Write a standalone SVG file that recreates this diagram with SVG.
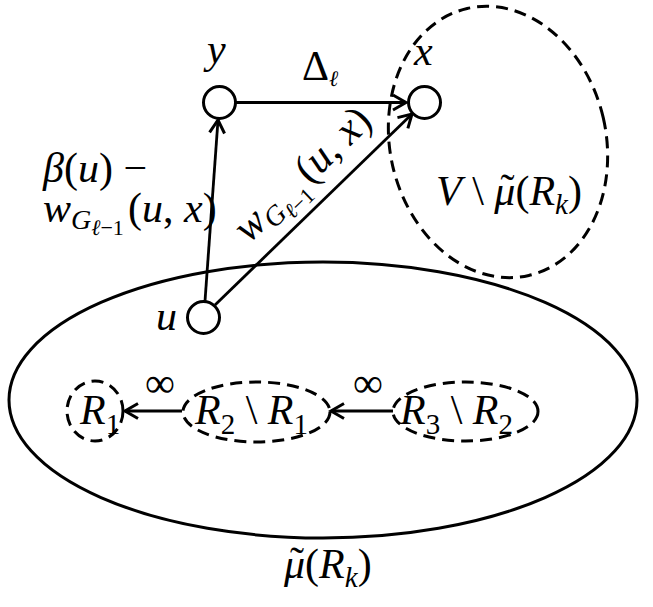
<svg xmlns="http://www.w3.org/2000/svg" width="653" height="607" viewBox="0 0 653 607">
<style>
.t{font-family:"Liberation Serif","Times New Roman",serif;font-size:42px;fill:#000}
.i{font-style:italic}
.solid{fill:none;stroke:#000;stroke-width:3}
.dash{fill:none;stroke:#000;stroke-width:3;stroke-dasharray:12 7}
.node{fill:#fff;stroke:#000;stroke-width:3}
.edge{fill:none;stroke:#000;stroke-width:2.8;marker-end:url(#arr)}
</style>
<defs>
<marker id="arr" markerUnits="userSpaceOnUse" markerWidth="22" markerHeight="22" viewBox="-17 -11 22 22" refX="0" refY="0" orient="auto">
<path d="M-13,-7.5 L0,0 L-13,7.5" fill="none" stroke="#000" stroke-width="3"/>
</marker>
</defs>
<rect width="653" height="607" fill="#fff"/>
<g id="set-mu">
<ellipse class="solid" cx="323" cy="400" rx="314" ry="138"/>
<text class="t" x="284" y="578"><tspan class="i">μ</tspan><tspan dx="-15" dy="-2">˜</tspan><tspan dx="1" dy="2">(</tspan><tspan class="i">R</tspan><tspan class="i" font-size="29" dy="9">k</tspan><tspan dy="-9">)</tspan></text>
</g>
<g id="set-V">
<ellipse class="dash" cx="498" cy="142" rx="108" ry="137" transform="rotate(-13 498 142)"/>
<text class="t" x="436" y="205"><tspan class="i">V</tspan>  \  <tspan class="i">μ</tspan><tspan dx="-15" dy="-2">˜</tspan><tspan dx="1" dy="2">(</tspan><tspan class="i">R</tspan><tspan class="i" font-size="29" dy="9">k</tspan><tspan dy="-9">)</tspan></text>
</g>
<g id="set-R1">
<ellipse class="dash" cx="95" cy="411" rx="28" ry="30"/>
<text class="t" x="80" y="424"><tspan class="i">R</tspan><tspan font-size="29" dy="10">1</tspan></text>
</g>
<g id="set-R2">
<ellipse class="dash" cx="256.5" cy="412" rx="73.5" ry="30"/>
<text class="t" x="195" y="424"><tspan class="i">R</tspan><tspan font-size="29" dy="10">2</tspan><tspan dy="-10"> \ </tspan><tspan class="i">R</tspan><tspan font-size="29" dy="10">1</tspan></text>
</g>
<g id="set-R3">
<ellipse class="dash" cx="465.5" cy="411.5" rx="72.5" ry="29.5"/>
<text class="t" x="400" y="424"><tspan class="i">R</tspan><tspan font-size="29" dy="10">3</tspan><tspan dy="-10"> \ </tspan><tspan class="i">R</tspan><tspan font-size="29" dy="10">2</tspan></text>
</g>
<g id="connectors">
<line class="edge" x1="236" y1="102.5" x2="406" y2="102.5"/>
<line class="edge" x1="205" y1="301" x2="218" y2="120"/>
<line class="edge" x1="215" y1="305" x2="412" y2="114"/>
<line class="edge" x1="182" y1="411" x2="125" y2="411"/>
<line class="edge" x1="393" y1="411" x2="331" y2="411"/>
<text class="t" x="302" y="80" font-size="29">Δ<tspan class="i" font-size="22" dy="6">ℓ</tspan></text>
<text class="t" x="43" y="182" font-size="40"><tspan class="i">β</tspan>(<tspan class="i">u</tspan>) −</text>
<text class="t" x="43" y="222" font-size="40"><tspan class="i">w</tspan><tspan class="i" font-size="28" dy="7">G</tspan><tspan font-size="22" dy="6"><tspan class="i">ℓ</tspan>−1</tspan><tspan dy="-13" x="128">(</tspan><tspan class="i">u</tspan>, <tspan class="i">x</tspan>)</text>
<text class="t" font-size="40" transform="translate(249 244) rotate(-44)"><tspan class="i">w</tspan><tspan class="i" font-size="28" dy="7">G</tspan><tspan font-size="22" dy="6"><tspan class="i">ℓ</tspan>−1</tspan><tspan dy="-13" x="85">(</tspan><tspan class="i">u</tspan>, <tspan class="i">x</tspan>)</text>
<text class="t" x="145" y="397" font-size="34">∞</text>
<text class="t" x="353" y="397" font-size="34">∞</text>
</g>
<g id="node-y">
<circle class="node" cx="219.5" cy="102.5" r="16"/>
<text class="t i" x="207" y="63">y</text>
</g>
<g id="node-x">
<circle class="node" cx="424.5" cy="102.5" r="16"/>
<text class="t i" x="414" y="65">x</text>
</g>
<g id="node-u">
<circle class="node" cx="203.5" cy="317.5" r="16"/>
<text class="t i" x="156" y="330">u</text>
</g>
</svg>
